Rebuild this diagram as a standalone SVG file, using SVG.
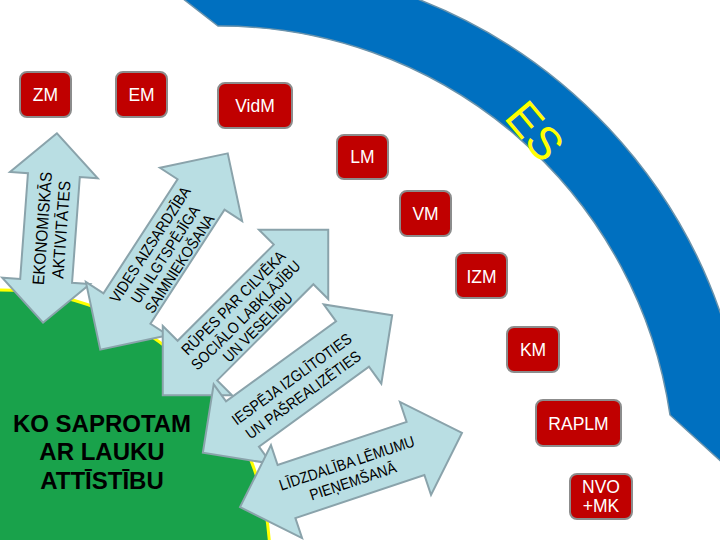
<svg xmlns="http://www.w3.org/2000/svg" width="720" height="540" viewBox="0 0 720 540">
<style>
.box rect{fill:#C00000;stroke:#8C8C8C;stroke-width:2}
.box text{fill:#FFFFFF;font-family:"Liberation Sans",Arial,sans-serif;font-size:17.5px;text-anchor:middle}
.arr{fill:#B9DEE3;stroke:#8AA3AB;stroke-width:2;stroke-linejoin:miter}
.at{fill:#000;font-family:"Liberation Sans",Arial,sans-serif;font-size:15.5px;text-anchor:middle}
.big{fill:#000;font-family:"Liberation Sans",Arial,sans-serif;font-size:24px;font-weight:bold;text-anchor:middle}
</style>
<defs>
<polygon id="dbl" points="117,0 68,-49 68,-28 -68,-28 -68,-49 -117,0 -68,49 -68,28 68,28 68,49"/>
<polygon id="dblv" points="95,0 53,-44 53,-26 -53,-26 -53,-44 -95,0 -53,44 -53,26 53,26 53,44"/>
</defs>
<rect width="720" height="540" fill="#FFFFFF"/>

<g id="es-band">
<path d="M182,-2 L218,26 A455,455 0 0 1 670,415 L726,466 L726,330 A520,520 0 0 0 415,-2 Z" fill="#0070C0" stroke="#6A93AC" stroke-width="1.5"/>
<text transform="translate(535,131) rotate(50)" x="0" y="16" fill="#FFFF00" font-family="Liberation Sans,Arial,sans-serif" font-size="46" text-anchor="middle">ES</text>
</g>

<g id="center">
<circle cx="0" cy="560" r="270" fill="#19A24B" stroke="#FFFF00" stroke-width="3"/>
<text class="big" x="102" y="432">KO SAPROTAM</text>
<text class="big" x="102" y="460">AR LAUKU</text>
<text class="big" x="102" y="489">ATTĪSTĪBU</text>
</g>

<g id="connectors">
<g id="arrow-ekonomiskas" transform="translate(50,228) rotate(-85.8)">
<use href="#dblv" class="arr"/>
<g transform="scale(0.93,1)">
<text class="at" style="font-size:16.5px" x="-1" y="-2">EKONOMISKĀS</text>
<text class="at" style="font-size:16.5px" x="-1" y="17">AKTIVITĀTES</text>
</g>
</g>
<g id="arrow-vides" transform="translate(164,251.5) rotate(-57)">
<use href="#dbl" class="arr"/>
<g transform="scale(0.89,1)">
<text class="at" x="-2" y="-10">VIDES AIZSARDZĪBA</text>
<text class="at" x="-2" y="8">UN ILGTSPĒJĪGA</text>
<text class="at" x="-2" y="25">SAIMNIEKOŠANA</text>
</g>
</g>
<g id="arrow-rupes" transform="translate(245.5,312.5) rotate(-45)">
<use href="#dbl" class="arr"/>
<g transform="scale(0.89,1)">
<text class="at" x="-2" y="-10">RŪPES PAR CILVĒKA</text>
<text class="at" x="-2" y="7.5">SOCIĀLO LABKLĀJĪBU</text>
<text class="at" x="-2" y="24.5">UN VESELĪBU</text>
</g>
</g>
<g id="arrow-iespeja" transform="translate(297.5,384) rotate(-36)">
<use href="#dbl" class="arr"/>
<g transform="scale(0.89,1)">
<text class="at" x="-2" y="-2">IESPĒJA IZGLĪTOTIES</text>
<text class="at" x="-2" y="17.5">UN PAŠREALIZĒTIES</text>
</g>
</g>
<g id="arrow-lidzdaliba" transform="translate(351,470) rotate(-18.5)">
<use href="#dbl" class="arr"/>
<g transform="scale(0.89,1)">
<text class="at" x="-2" y="-2.5">LĪDZDALĪBA LĒMUMU</text>
<text class="at" x="-2" y="16.5">PIEŅEMŠANĀ</text>
</g>
</g>
</g>

<g id="ZM" class="box"><rect x="20" y="72" width="51" height="45" rx="7"/><text x="45.5" y="101">ZM</text></g>
<g id="EM" class="box"><rect x="116" y="72" width="51" height="45" rx="7"/><text x="141.5" y="101">EM</text></g>
<g id="VidM" class="box"><rect x="218" y="83" width="74" height="45" rx="7"/><text x="255" y="112">VidM</text></g>
<g id="LM" class="box"><rect x="337" y="135" width="51" height="44" rx="7"/><text x="362.5" y="163">LM</text></g>
<g id="VM" class="box"><rect x="400" y="191" width="51" height="45" rx="7"/><text x="425.5" y="220">VM</text></g>
<g id="IZM" class="box"><rect x="456" y="253" width="51" height="45" rx="7"/><text x="481.5" y="282.5">IZM</text></g>
<g id="KM" class="box"><rect x="507" y="327" width="52" height="45" rx="7"/><text x="533" y="356">KM</text></g>
<g id="RAPLM" class="box"><rect x="536" y="400" width="85" height="46" rx="7"/><text x="578.5" y="430">RAPLM</text></g>
<g id="NVO" class="box"><rect x="570" y="474" width="62" height="45" rx="7"/><text x="601" y="493">NVO</text><text x="601" y="512">+MK</text></g>
</svg>
